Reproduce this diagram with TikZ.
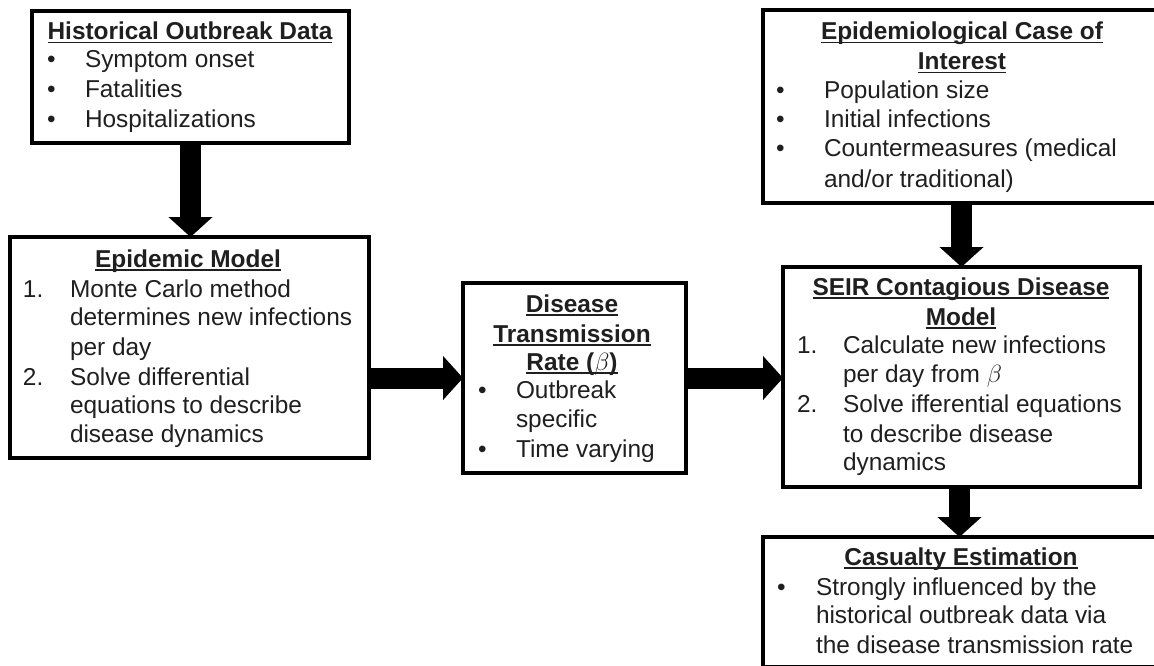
\documentclass[tikz,border=0pt]{standalone}
\usepackage{fontspec}
\setmainfont{Liberation Sans}
\usetikzlibrary{arrows.meta}
\newcommand\myul[1]{\sbox0{#1}\rlap{\rule[-3.5pt]{\wd0}{1.8pt}}\usebox0}
\newcommand\bodyfont{\fontsize{24.4}{29}\selectfont}
\tikzset{
  box/.style={draw=black, line width=3.2pt, inner sep=0pt, outer sep=0pt, fill=white},
  txt/.style={inner sep=0pt, outer sep=0pt, anchor=base west, text=black!88, font=\bodyfont},
  ttl/.style={inner sep=0pt, outer sep=0pt, anchor=base, font=\bodyfont\bfseries, text=black!88},
  blk/.style={line width=21pt, -{Triangle[width=43pt,length=20pt]}},
}
\begin{document}
\begin{tikzpicture}[x=1pt, y=-1pt]
\useasboundingbox (0,0) rectangle (1154,666);
\clip (0,0) rectangle (1154,666);

% boxes
\node[box, minimum width=317pt, minimum height=132pt] (b1) at (190.5,77) {};
\node[box, minimum width=359pt, minimum height=221pt] (b2) at (189.5,347.5) {};
\node[box, minimum width=223pt, minimum height=190pt] (b3) at (574.5,378) {};
\node[box, minimum width=397pt, minimum height=193pt] (b4) at (961.5,106.5) {};
\node[box, minimum width=357pt, minimum height=220pt] (b5) at (961.5,377) {};
\node[box, minimum width=397pt, minimum height=130pt] (b6) at (961.5,602) {};

% arrows
\draw[blk] (b1.south) -- (b1.south |- b2.north);
\draw[blk] (b2.east |- b3.west) -- (b3.west);
\draw[blk] (b3.east) -- (b3.east -| b5.west);
\draw[blk] (b4.south) -- (b5.north);
\draw[blk] ([xshift=-2pt]b5.south) -- ([xshift=-2pt]b5.south |- b6.north);

% box 1 text
\node[ttl] (t1) at (190,40) {\myul{Historical Outbreak Data}};
\node[txt] (t1b1) at (47,68) {•};
\node[txt] (t1a) at (85,68) {Symptom onset};
\node[txt] (t1b2) at (47,98) {•};
\node[txt] (t1b) at (85,98) {Fatalities};
\node[txt] (t1b3) at (47,128) {•};
\node[txt] (t1c) at (85,128) {Hospitalizations};

% box 2 text
\node[ttl] (t2) at (188,267) {\myul{Epidemic Model}};
\node[txt] (t2n1) at (23,297) {1.};
\node[txt] (t2a) at (70,297) {Monte Carlo method};
\node[txt] (t2b) at (70,325) {determines new infections};
\node[txt] (t2c) at (70,355) {per day};
\node[txt] (t2n2) at (23,385) {2.};
\node[txt] (t2d) at (70,385) {Solve differential};
\node[txt] (t2e) at (70,413) {equations to describe};
\node[txt] (t2f) at (70,442) {disease dynamics};

% box 3 text
\node[ttl] (t3a) at (572,312) {\myul{Disease}};
\node[ttl] (t3b) at (572,342) {\myul{Transmission}};
\node[ttl] (t3c) at (572,370) {\myul{Rate (\(\beta\))}};
\node[txt] (t3b1) at (478,398) {•};
\node[txt] (t3d) at (516,398) {Outbreak};
\node[txt] (t3e) at (516,427) {specific};
\node[txt] (t3b2) at (478,457) {•};
\node[txt] (t3f) at (516,457) {Time varying};

% box 4 text
\node[ttl] (t4a) at (962,40) {\myul{Epidemiological Case of}};
\node[ttl] (t4b) at (962,70) {\myul{Interest}};
\node[txt] (t4b1) at (776,99) {•};
\node[txt] (t4c) at (824,99) {Population size};
\node[txt] (t4b2) at (776,128) {•};
\node[txt] (t4d) at (824,128) {Initial infections};
\node[txt] (t4b3) at (776,157) {•};
\node[txt] (t4e) at (824,157) {Countermeasures (medical};
\node[txt] (t4f) at (824,187) {and/or traditional)};

% box 5 text
\node[ttl] (t5a) at (961,295) {\myul{SEIR Contagious Disease}};
\node[ttl] (t5b) at (961,325) {\myul{Model}};
\node[txt] (t5n1) at (797,353) {1.};
\node[txt] (t5c) at (843,353) {Calculate new infections};
\node[txt] (t5d) at (843,382) {per day from \(\beta\)};
\node[txt] (t5n2) at (797,412) {2.};
\node[txt] (t5e) at (843,412) {Solve ifferential equations};
\node[txt] (t5f) at (843,442) {to describe disease};
\node[txt] (t5g) at (843,470) {dynamics};

% box 6 text
\node[ttl] (t6) at (961,565) {\myul{Casualty Estimation}};
\node[txt] (t6b1) at (777,595) {•};
\node[txt] (t6a) at (816,595) {Strongly influenced by the};
\node[txt] (t6b) at (816,623) {historical outbreak data via};
\node[txt] (t6c) at (816,653) {the disease transmission rate};
\end{tikzpicture}
\end{document}
